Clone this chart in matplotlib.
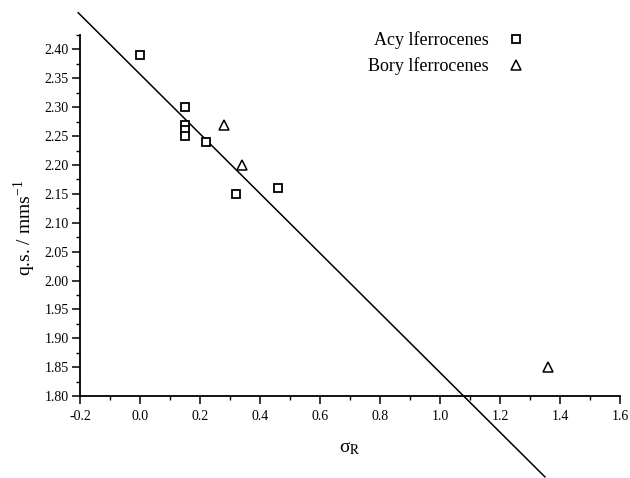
import matplotlib
matplotlib.use('Agg')
import matplotlib.pyplot as plt
from matplotlib.ticker import MultipleLocator, FormatStrFormatter
plt.rcParams["font.family"] = "Liberation Serif"
plt.rcParams["mathtext.fontset"] = "stix"

# sigma_R vs quadrupole splitting
acyl_x = [0.0, 0.15, 0.15, 0.15, 0.15, 0.22, 0.32, 0.46]
acyl_y = [2.39, 2.30, 2.27, 2.26, 2.25, 2.24, 2.15, 2.16]
boryl_x = [0.28, 0.34, 1.36]
boryl_y = [2.27, 2.20, 1.85]
# fitted line, end points
line_x = [-0.206, 1.35]
line_y = [2.4636, 1.66]

fig = plt.figure(figsize=(6.3, 4.78), dpi=100)
ax = fig.add_axes([0.127, 0.1715, 0.857, 0.7552])

ax.plot(line_x, line_y, color='black', linewidth=1.1, clip_on=False)
ax.plot(acyl_x, acyl_y, linestyle='none', marker='s', markersize=5.5,
        markerfacecolor='white', markeredgecolor='black', markeredgewidth=1.3,
        label='Acy lferrocenes')
ax.plot(boryl_x, boryl_y, linestyle='none', marker='^', markersize=6.5,
        markerfacecolor='white', markeredgecolor='black', markeredgewidth=1.1,
        label='Bory lferrocenes')

ax.set_xlim(-0.2, 1.6)
ax.set_ylim(1.80, 2.425)
for s in ['top', 'right']:
    ax.spines[s].set_visible(False)
for s in ['left', 'bottom']:
    ax.spines[s].set_linewidth(1.3)

ax.xaxis.set_major_locator(MultipleLocator(0.2))
ax.xaxis.set_minor_locator(MultipleLocator(0.1))
ax.yaxis.set_major_locator(MultipleLocator(0.05))
ax.yaxis.set_minor_locator(MultipleLocator(0.025))
ax.xaxis.set_major_formatter(FormatStrFormatter('%.1f'))
ax.yaxis.set_major_formatter(FormatStrFormatter('%.2f'))
ax.tick_params(which='major', length=6, width=1.1, labelsize=10, direction='out')
ax.tick_params(which='minor', length=3, width=1.0, direction='out')
ax.tick_params(axis='x', which='major', pad=4)
ax.tick_params(axis='y', which='major', pad=2)

ax.set_xlabel(r'σ$_{\mathrm{R}}$', fontsize=14, labelpad=12)
ax.set_ylabel(r'q.s. / mms$^{\mathregular{-1}}$', fontsize=14)
ax.yaxis.set_label_coords(-0.077, 0.465)

ax.legend(loc='upper left', bbox_to_anchor=(0.52, 1.03), frameon=False,
          markerfirst=False, fontsize=13, handlelength=1.0, handletextpad=1.0,
          labelspacing=0.45, borderaxespad=0)

fig.savefig('out.png', dpi=100)
